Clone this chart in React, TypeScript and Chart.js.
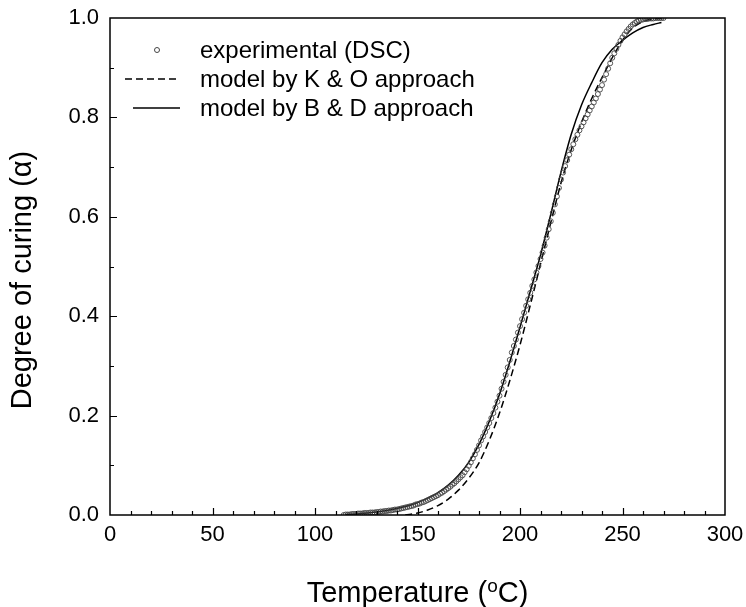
import React, { useEffect, useRef } from 'react';
import { Chart, registerables } from 'chart.js';

Chart.register(...registerables);

const FONT = "'Liberation Sans', Arial, Helvetica, sans-serif";

// Experimental (DSC) data: temperature (°C) and degree of curing
const expT = [
  114, 115, 116, 117, 118, 119, 120, 121, 122, 123, 124, 125, 126, 127, 128, 129,
  130, 131, 132, 133, 134, 135, 136, 137, 138, 139, 140, 141, 142, 143, 144, 145,
  146, 147, 148, 149, 150, 151, 152, 153, 154, 155, 156, 157, 158, 159, 160, 161,
  162, 163, 164, 165, 166, 167, 168, 169, 170, 171, 172, 173, 174, 175, 176, 177,
  178, 179, 180, 181, 182, 183, 184, 185, 186, 187, 188, 189, 190, 191, 192, 193,
  194, 195, 196, 197, 198, 199, 200, 201, 202, 203, 204, 205, 206, 207, 208, 209,
  210, 211, 212, 213, 214, 215, 216, 217, 218, 219, 220, 221, 222, 223, 224, 225,
  226, 227, 228, 229, 230, 231, 232, 233, 234, 235, 236, 237, 238, 239, 240, 241,
  242, 243, 244, 245, 246, 247, 248, 249, 250, 251, 252, 253, 254, 255, 256, 257,
  258, 259, 260, 261, 262, 263, 264, 265, 266, 267, 268, 269, 270,
];
const expAlpha = [
  0.000, 0.001, 0.001, 0.001, 0.002, 0.002, 0.002, 0.003, 0.003, 0.003, 0.004, 0.004, 0.004, 0.005, 0.005, 0.005,
  0.006, 0.006, 0.007, 0.007, 0.008, 0.008, 0.009, 0.009, 0.010, 0.011, 0.011, 0.012, 0.013, 0.014, 0.015, 0.016,
  0.017, 0.018, 0.019, 0.021, 0.022, 0.023, 0.025, 0.026, 0.028, 0.030, 0.032, 0.034, 0.036, 0.038, 0.040, 0.043,
  0.045, 0.048, 0.051, 0.054, 0.057, 0.061, 0.064, 0.068, 0.072, 0.076, 0.080, 0.086, 0.092, 0.099, 0.106, 0.114,
  0.122, 0.131, 0.140, 0.150, 0.158, 0.167, 0.176, 0.185, 0.195, 0.205, 0.216, 0.228, 0.240, 0.254, 0.268, 0.282,
  0.297, 0.312, 0.327, 0.340, 0.353, 0.367, 0.380, 0.394, 0.407, 0.421, 0.434, 0.447, 0.461, 0.474, 0.488, 0.501,
  0.515, 0.528, 0.542, 0.558, 0.575, 0.591, 0.608, 0.625, 0.641, 0.658, 0.675, 0.689, 0.702, 0.714, 0.725, 0.736,
  0.746, 0.756, 0.765, 0.774, 0.782, 0.790, 0.798, 0.806, 0.814, 0.822, 0.830, 0.838, 0.847, 0.856, 0.865, 0.876,
  0.887, 0.898, 0.909, 0.920, 0.929, 0.938, 0.946, 0.954, 0.961, 0.967, 0.973, 0.978, 0.983, 0.987, 0.990, 0.993,
  0.995, 0.996, 0.997, 0.998, 0.998, 0.999, 0.999, 0.999, 1.000, 1.000, 1.000, 1.000, 1.000,
];

// Model by K & O approach (dashed)
const koT = [144, 150, 155, 160, 165, 170, 175, 180, 185, 190, 195, 200, 205, 210, 215, 220, 225, 230, 235, 240, 245, 250, 255, 260, 265, 270];
const koAlpha = [0.000, 0.004, 0.010, 0.019, 0.032, 0.050, 0.074, 0.105, 0.150, 0.205, 0.270, 0.342, 0.422, 0.505, 0.588, 0.668, 0.735, 0.790, 0.838, 0.880, 0.920, 0.955, 0.980, 0.993, 0.998, 1.000];

// Model by B & D approach (solid)
const bdT = [115, 120, 125, 130, 135, 140, 145, 150, 155, 160, 165, 170, 175, 180, 185, 190, 195, 200, 205, 210, 215, 220, 225, 230, 235, 240, 245, 250, 255, 260, 265, 269];
const bdAlpha = [0.001, 0.002, 0.004, 0.006, 0.009, 0.013, 0.018, 0.025, 0.034, 0.045, 0.060, 0.080, 0.106, 0.142, 0.188, 0.243, 0.308, 0.378, 0.450, 0.523, 0.605, 0.690, 0.766, 0.825, 0.870, 0.910, 0.937, 0.955, 0.970, 0.981, 0.987, 0.991];

const legendLabels = ['experimental (DSC)', 'model by K & O approach', 'model by B & D approach'];
const xTitleParts = ['Temperature (', 'o', 'C)'];
const yTitle = 'Degree of curing (\u03B1)';

const X_MIN = 0, X_MAX = 300, X_MAJOR = 50, X_MINOR = 10;
const Y_MIN = 0, Y_MAX = 1, Y_MAJOR = 0.2, Y_MINOR = 0.1;

const framePlugin = {
  id: 'frameTicks',
  afterDatasetsDraw(chart: any) {
    const { ctx, chartArea: a, scales } = chart;
    const xs = scales.x, ys = scales.y;
    ctx.save();
    ctx.strokeStyle = '#000';
    ctx.lineWidth = 1.5;
    ctx.strokeRect(a.left, a.top, a.right - a.left, a.bottom - a.top);
    ctx.lineWidth = 1.2;
    ctx.beginPath();
    const nx = Math.round((X_MAX - X_MIN) / X_MINOR);
    for (let i = 1; i < nx; i++) {
      const v = X_MIN + i * X_MINOR;
      const major = Math.abs(v / X_MAJOR - Math.round(v / X_MAJOR)) < 1e-6;
      const px = Math.round(xs.getPixelForValue(v)) + 0.5;
      ctx.moveTo(px, a.bottom);
      ctx.lineTo(px, a.bottom - (major ? 7 : 4));
    }
    const ny = Math.round((Y_MAX - Y_MIN) / Y_MINOR);
    for (let i = 1; i < ny; i++) {
      const v = Y_MIN + i * Y_MINOR;
      const major = Math.abs(v / Y_MAJOR - Math.round(v / Y_MAJOR)) < 1e-6;
      const py = Math.round(ys.getPixelForValue(v)) + 0.5;
      ctx.moveTo(a.left, py);
      ctx.lineTo(a.left + (major ? 7 : 4), py);
    }
    ctx.stroke();
    ctx.restore();
  },
  afterDraw(chart: any) {
    const { ctx, chartArea: a } = chart;
    ctx.save();
    ctx.fillStyle = '#000';
    // legend
    ctx.font = `24px ${FONT}`;
    ctx.textBaseline = 'middle';
    ctx.textAlign = 'left';
    const rows = [50, 79, 108];
    const tx = 200;
    ctx.strokeStyle = '#444';
    ctx.lineWidth = 1;
    ctx.beginPath();
    ctx.arc(157, rows[0], 2.5, 0, Math.PI * 2);
    ctx.stroke();
    ctx.strokeStyle = '#000';
    ctx.lineWidth = 1.5;
    ctx.setLineDash([7, 4]);
    ctx.beginPath();
    ctx.moveTo(125, rows[1]);
    ctx.lineTo(180, rows[1]);
    ctx.stroke();
    ctx.setLineDash([]);
    ctx.beginPath();
    ctx.moveTo(133, rows[2]);
    ctx.lineTo(180, rows[2]);
    ctx.stroke();
    legendLabels.forEach((t, i) => ctx.fillText(t, tx, rows[i] + 1));

    // x title with superscript
    ctx.textBaseline = 'alphabetic';
    const big = `29px ${FONT}`, small = `19px ${FONT}`;
    ctx.font = big;
    const w0 = ctx.measureText(xTitleParts[0]).width;
    const w2 = ctx.measureText(xTitleParts[2]).width;
    ctx.font = small;
    const w1 = ctx.measureText(xTitleParts[1]).width;
    const cx = (a.left + a.right) / 2;
    let x = cx - (w0 + w1 + w2) / 2;
    const base = 602;
    ctx.font = big;
    ctx.fillText(xTitleParts[0], x, base);
    x += w0;
    ctx.font = small;
    ctx.fillText(xTitleParts[1], x, base - 10);
    x += w1;
    ctx.font = big;
    ctx.fillText(xTitleParts[2], x, base);

    // y title rotated
    ctx.save();
    ctx.translate(31, 280);
    ctx.rotate(-Math.PI / 2);
    ctx.font = big;
    ctx.textAlign = 'center';
    ctx.fillText(yTitle, 0, 0);
    ctx.restore();
    ctx.restore();
  },
};

export default function App() {
  const ref = useRef<HTMLCanvasElement>(null);
  useEffect(() => {
    document.body.style.margin = '0';
    const canvas = ref.current!;
    const toPts = (xs: number[], ys: number[]) => xs.map((t, i) => ({ x: t, y: ys[i] }));
    const chart = new Chart(canvas, {
      type: 'scatter',
      data: {
        datasets: [
          {
            label: legendLabels[0],
            data: toPts(expT, expAlpha),
            pointRadius: 2.5,
            pointBorderWidth: 0.9,
            pointBorderColor: '#444',
            pointBackgroundColor: 'rgba(0,0,0,0)',
            showLine: false,
          },
          {
            label: legendLabels[1],
            data: toPts(koT, koAlpha),
            showLine: true,
            pointRadius: 0,
            borderColor: '#000',
            borderWidth: 1.5,
            borderDash: [7, 4],
            cubicInterpolationMode: 'monotone',
          },
          {
            label: legendLabels[2],
            data: toPts(bdT, bdAlpha),
            showLine: true,
            pointRadius: 0,
            borderColor: '#000',
            borderWidth: 1.5,
            cubicInterpolationMode: 'monotone',
          },
        ],
      },
      options: {
        animation: false,
        responsive: false,
        events: [],
        layout: { padding: { top: 18, right: 21, left: 0, bottom: 0 } },
        plugins: { legend: { display: false }, tooltip: { enabled: false } },
        scales: {
          x: {
            type: 'linear',
            min: X_MIN,
            max: X_MAX,
            afterFit: (s: any) => { s.height = 92; s.paddingLeft = 0; s.paddingRight = 0; },
            grid: { display: false, drawTicks: false },
            border: { display: false },
            ticks: { stepSize: X_MAJOR, color: '#000', font: { family: FONT, size: 22 }, padding: 7, maxRotation: 0, autoSkip: false },
          },
          y: {
            type: 'linear',
            min: Y_MIN,
            max: Y_MAX,
            afterFit: (s: any) => { s.width = 110; s.paddingTop = 0; s.paddingBottom = 0; },
            grid: { display: false, drawTicks: false },
            border: { display: false },
            ticks: {
              stepSize: Y_MAJOR,
              color: '#000',
              font: { family: FONT, size: 22 },
              padding: 11,
              callback: (v: any) => Number(v).toFixed(1),
            },
          },
        },
      },
      plugins: [framePlugin],
    } as any);
    return () => chart.destroy();
  }, []);
  return (
    <div style={{ position: 'absolute', left: 0, top: 0, width: 746, height: 607, background: '#fff' }}>
      <canvas ref={ref} width={746} height={607} style={{ display: 'block' }} />
    </div>
  );
}
